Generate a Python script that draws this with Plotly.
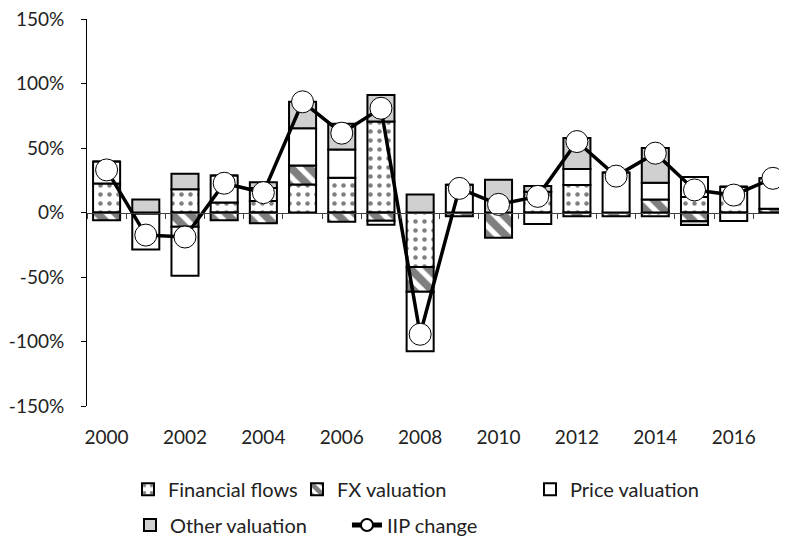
import plotly.graph_objects as go

years = list(range(2000, 2018))
financial_flows = [22.5, 0, 18, 7.7, 9, 21.8, 27, 70.5, -42.3, 0, 0, 16, 21.3, 0, -3, 12, 20, 0]
fx_valuation = [-6, -1, -11, -6, -8.3, 14.6, -7.2, -6.4, -19.2, -3, -19.6, 0, -3, -3, 10, -6.7, 0, 3]
price_valuation = [17, -27.7, -38, 21, 10, 29, 21.8, -3.1, -46, 21.5, 0, -9, 12.5, 31, 13, 15.6, -6.5, 23.5]
other_valuation = [0, 10, 12, 0, 4.5, 20.4, 20, 20.5, 14, 0, 25.3, 4.6, 23.9, 0, 27, -3, 0, 0]
iip_change = [33, -17.5, -19, 22.7, 15.4, 85.8, 61.5, 80.8, -94.4, 18.7, 6.3, 12.5, 55, 28.2, 46, 17.5, 13.5, 26.5]

y_ticks = [-150, -100, -50, 0, 50, 100, 150]
y_tick_text = ["-150%", "-100%", "-50%", "0%", "50%", "100%", "150%"]

FONT = "Lato"
outline = dict(color="black", width=2)

fig = go.Figure()

fig.add_trace(go.Bar(
    x=years, y=financial_flows, name="Financial flows", legend="legend",
    marker=dict(color="white", line=outline,
                pattern=dict(shape=".", fgcolor="black", bgcolor="white", size=9, solidity=0.2)),
))
fig.add_trace(go.Bar(
    x=years, y=fx_valuation, name="FX valuation", legend="legend2",
    marker=dict(color="white", line=outline,
                pattern=dict(shape="\\", fgcolor="black", bgcolor="white", size=13, solidity=0.6)),
))
fig.add_trace(go.Bar(
    x=years, y=price_valuation, name="Price valuation", legend="legend3",
    marker=dict(color="white", line=outline),
))
fig.add_trace(go.Bar(
    x=years, y=other_valuation, name="Other valuation", legend="legend4",
    marker=dict(color="#d0d0d0", line=outline),
))
fig.add_trace(go.Scatter(
    x=years, y=iip_change, name="IIP change", legend="legend5",
    mode="lines+markers",
    line=dict(color="black", width=3.5),
    marker=dict(size=22, color="white", line=dict(color="black", width=1)),
))
# helper trace so the zero-line axis gets drawn
fig.add_trace(go.Scatter(
    x=years, y=iip_change, xaxis="x2", mode="none", showlegend=False, hoverinfo="skip",
))

x_range = [1999.5, 2017.36]


def legend_at(x, y):
    return dict(x=x, y=y, xref="container", yref="container",
                xanchor="left", yanchor="middle", orientation="v",
                font=dict(family=FONT, size=20, color="#222"),
                bgcolor="rgba(0,0,0,0)", itemsizing="constant", tracegroupgap=0)


# page has an 8px body margin, so margins are shifted to compensate
fig.update_layout(
    width=787, height=540,
    margin=dict(l=79, r=8, t=11, b=142, autoexpand=False),
    paper_bgcolor="white", plot_bgcolor="white",
    barmode="relative", bargap=0.31,
    font=dict(family=FONT, size=19, color="#222"),
    xaxis=dict(
        range=x_range, tickmode="array", tickvals=years[::2],
        ticktext=[str(y) for y in years[::2]],
        showline=False, showgrid=False, zeroline=False, ticks="",
        ticklabelstandoff=18, automargin=False, ticklabeloverflow="allow",
    ),
    xaxis2=dict(
        overlaying="x", anchor="free", position=0.5, range=x_range,
        tickmode="array", tickvals=[y - 0.5 for y in years],
        showticklabels=False, showline=True, linecolor="#404040", linewidth=1,
        ticks="outside", ticklen=5, tickcolor="#404040", showgrid=False, zeroline=False,
        automargin=False,
    ),
    yaxis=dict(
        range=[-150, 150], tickmode="array", tickvals=y_ticks, ticktext=y_tick_text,
        showline=True, linecolor="black", linewidth=1,
        ticks="outside", ticklen=5, tickcolor="black",
        showgrid=False, zeroline=False, ticklabelstandoff=13, automargin=False,
        ticklabeloverflow="allow",
    ),
    legend=legend_at(0.1525, 0.109),
    legend2=legend_at(0.3672, 0.109),
    legend3=legend_at(0.6633, 0.109),
    legend4=legend_at(0.155, 0.0426),
    legend5=legend_at(0.4307, 0.0426),
)

fig.write_html("out.html")
